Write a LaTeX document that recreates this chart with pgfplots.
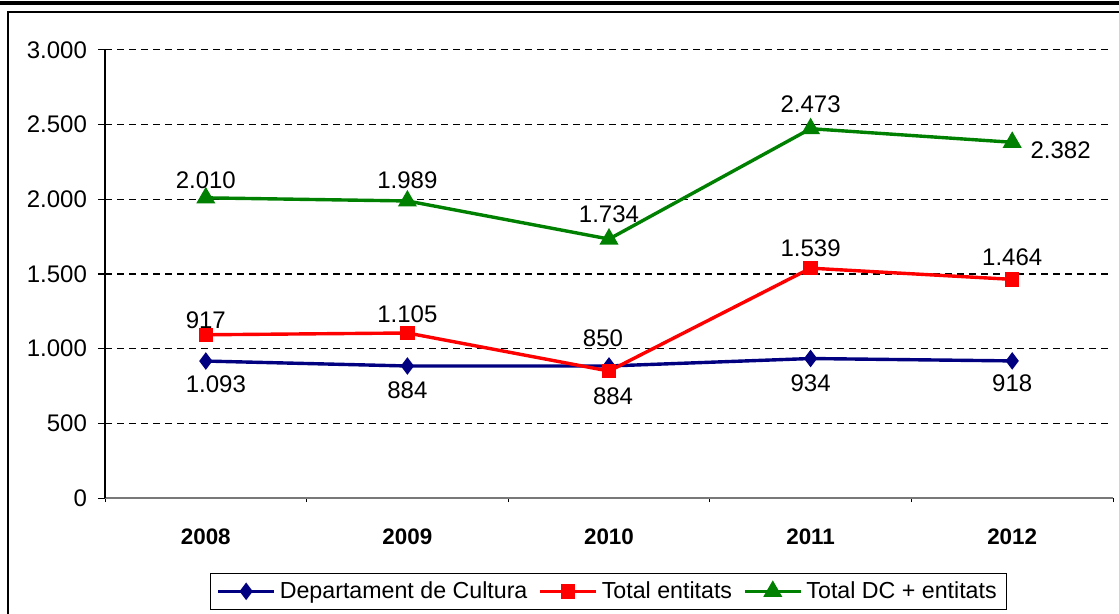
\documentclass[border=0pt]{standalone}
\usepackage{fontspec}
\setmainfont{Liberation Sans}
\usepackage{pgfplots}
\pgfplotsset{compat=1.18}
\definecolor{navyb}{RGB}{0,0,128}
\definecolor{greenb}{RGB}{0,128,0}
\definecolor{axgray}{RGB}{120,120,120}
\begin{document}
\begin{tikzpicture}
\path[use as bounding box] (0,0) rectangle (559.5pt,-307pt);
\draw[line width=1.6pt] (0,-1.5pt) -- (559.5pt,-1.5pt);
\draw[line width=0.6pt] (4pt,-330pt) -- (4pt,-6pt) -- (580pt,-6pt);
\begin{axis}[
  scale only axis, width=504pt, height=224pt,
  at={(52.5pt,-249pt)}, anchor=south west,
  xmin=-0.5, xmax=4.5, ymin=0, ymax=3000,
  axis x line*=bottom, axis y line*=left,
  x axis line style={draw=axgray, line width=0.8pt},
  y axis line style={draw=black, line width=0.6pt},
  ytick={0,500,...,3000},
  ytick align=outside, xtick align=outside,
  major tick length=3.5pt, minor tick length=2pt,
  tick style={black, line width=0.5pt},
  xtick={0,1,2,3,4},
  xticklabels={2008,2009,2010,2011,2012},
  major x tick style={draw=none},
  minor xtick={-0.5,0.5,1.5,2.5,3.5,4.5},
  xticklabel style={font=\bfseries\fontsize{11.2}{13}\selectfont, yshift=-8.5pt},
  yticklabel style={font=\fontsize{12}{14}\selectfont, xshift=-2pt},
  /pgf/number format/.cd, 1000 sep={.}, assume math mode=true,
  /pgfplots/.cd,
  ymajorgrids,
  grid style={black, line width=0.5pt, dash pattern=on 3.5pt off 2.5pt},
  legend style={at={(0.104,-0.167)}, anchor=north west, draw=black, line width=0.6pt,
     font=\fontsize{11.6}{13}\selectfont, legend columns=3,
     /tikz/every even column/.append style={column sep=3.5pt}},
  legend image code/.code={\draw[mark repeat=2,mark phase=2] plot coordinates {(0pt,0pt) (14pt,0pt) (28pt,0pt)};},
  every node near coord/.style={anchor=center, font=\fontsize{12}{14}\selectfont, black},
]
\addplot[navyb, line width=1.7pt, mark=diamond*, mark size=3pt, mark options={solid}] coordinates {(0,917)(1,884)(2,884)(3,934)(4,918)};
\addlegendentry{Departament de Cultura}
\addplot[red, line width=1.7pt, mark=square*, mark size=2.75pt] coordinates {(0,1093)(1,1105)(2,850)(3,1539)(4,1464)};
\addlegendentry{Total entitats}
\addplot[greenb, line width=1.7pt, mark=triangle*, mark size=3.8pt] coordinates {(0,2010)(1,1989)(2,1734)(3,2473)(4,2382)};
\addlegendentry{Total DC + entitats}
\addplot[draw=none, mark=none, forget plot, nodes near coords, point meta=explicit symbolic] table[meta=lab] {
x y lab
0 2129 2.010
1 2129 1.989
2 1902 1.734
3 2635 2.473
4.24 2330 2.382
0 1192 917
1 1232 1.105
1.97 1071 850
3 1674 1.539
4 1614 1.464
0.05 763 1.093
1 723 884
2.02 683 884
3 770 934
4 770 918
};
\end{axis}
\end{tikzpicture}
\end{document}
